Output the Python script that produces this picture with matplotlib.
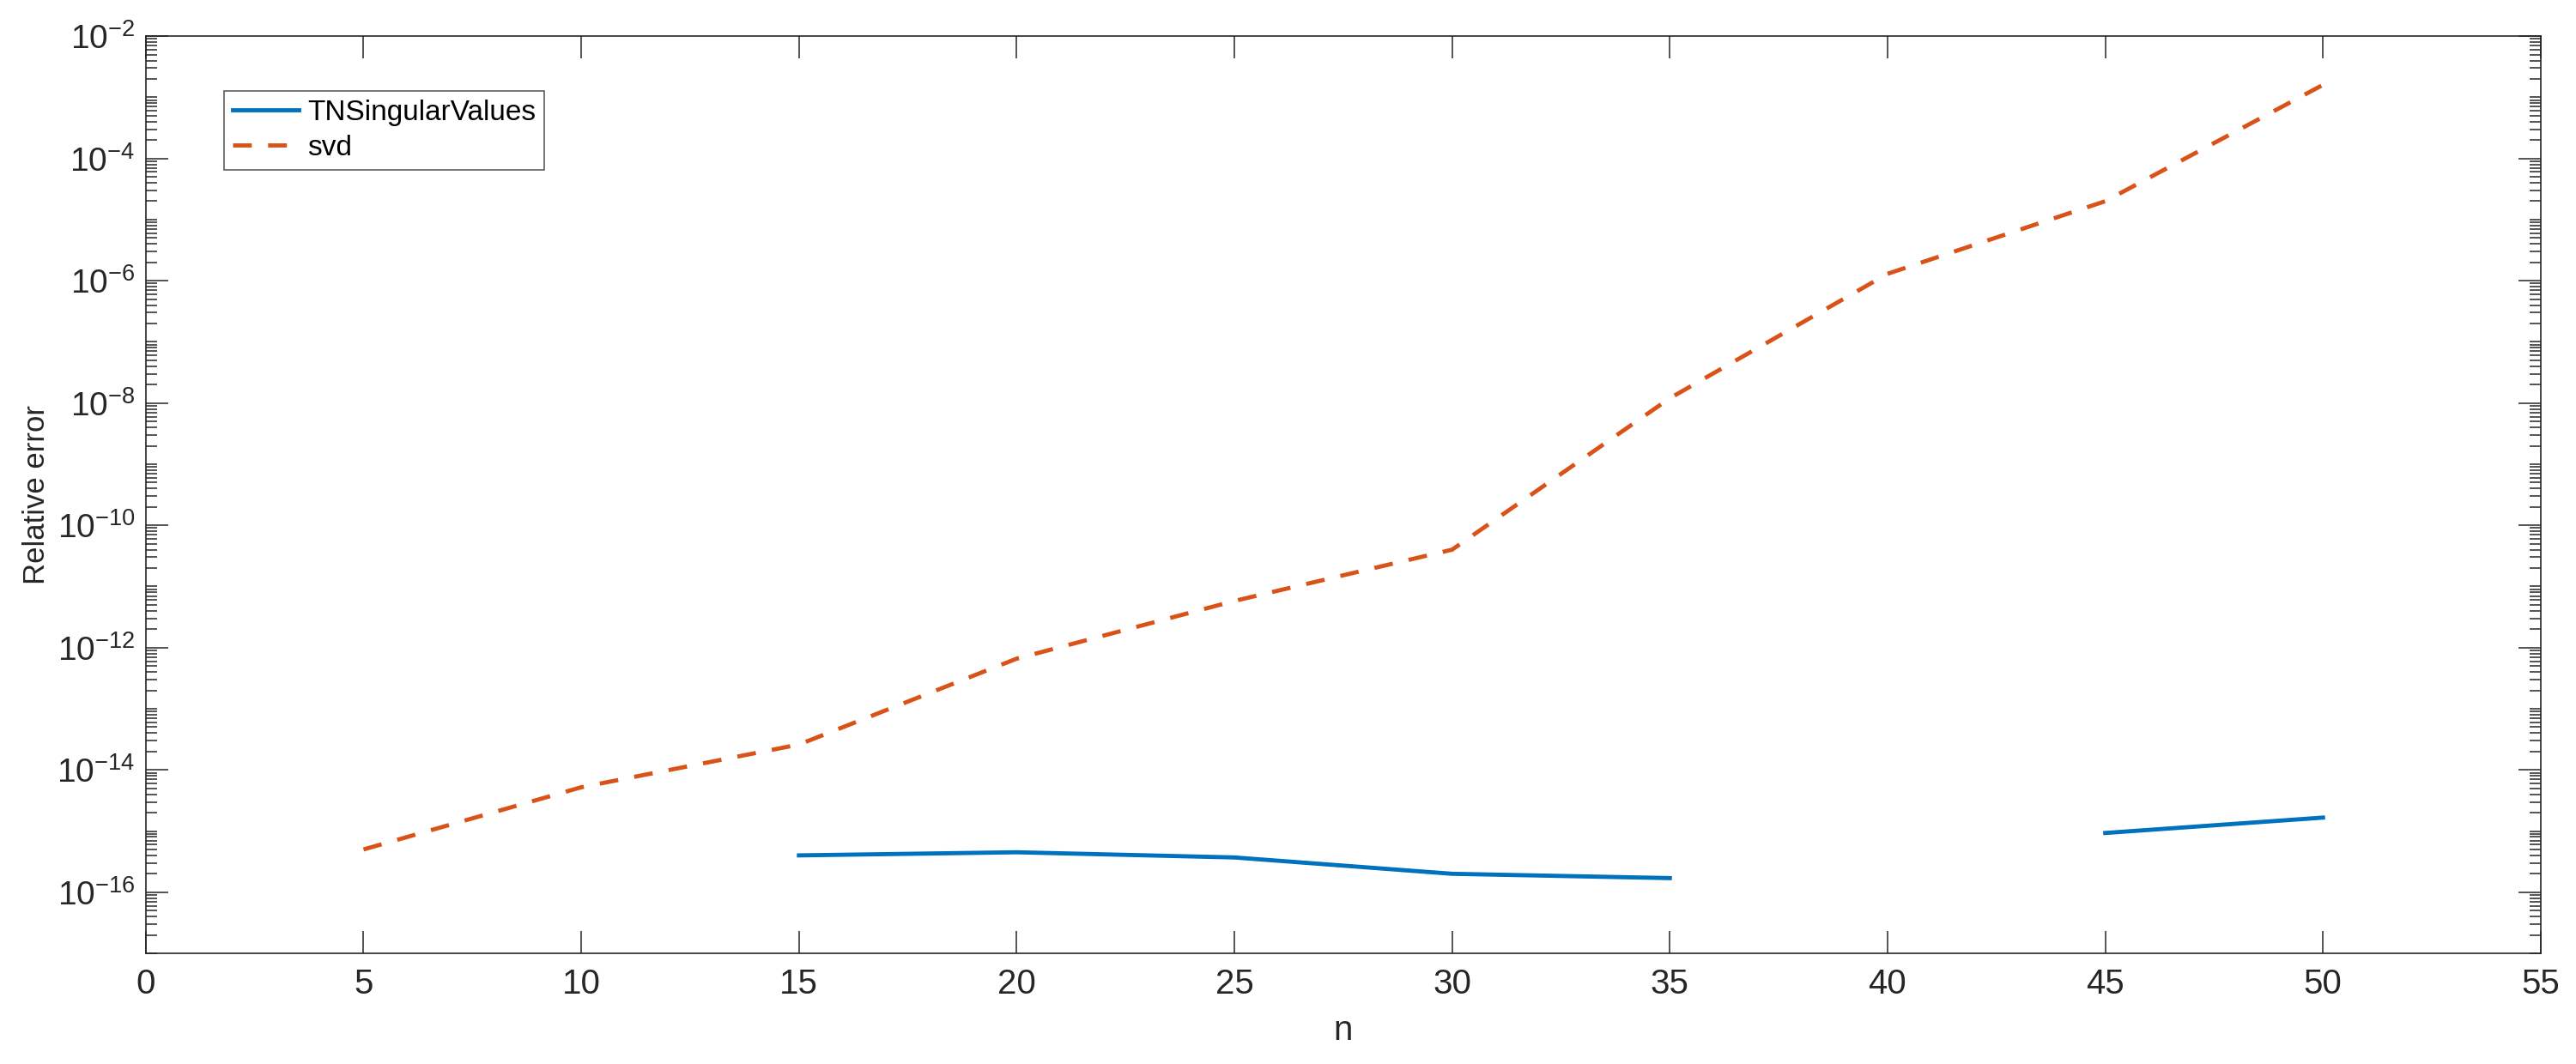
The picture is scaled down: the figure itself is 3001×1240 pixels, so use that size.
import numpy as np
import matplotlib
matplotlib.use("Agg")
import matplotlib.pyplot as plt
from matplotlib.ticker import FixedLocator, LogLocator, NullFormatter

plt.rcParams['font.family'] = ['Liberation Sans', 'DejaVu Sans']
plt.rcParams['mathtext.fontset'] = 'custom'
plt.rcParams['mathtext.rm'] = 'Liberation Sans'
plt.rcParams['mathtext.it'] = 'Liberation Sans'

# data (NaN = not shown)
n = [5, 10, 15, 20, 25, 30, 35, 40, 45, 50]
tn_err = [np.nan, np.nan, 4.0e-16, 4.5e-16, 3.7e-16, 2.0e-16, 1.7e-16, np.nan, 9.3e-16, 1.66e-15]
svd_err = [5.0e-16, 5.2e-15, 2.6e-14, 6.6e-13, 5.8e-12, 4.0e-11, 1.2e-8, 1.3e-6, 2.0e-5, 1.6e-3]
labels = ['TNSingularValues', 'svd']

blue = '#0072BD'
orange = '#D95319'
dark = '#262626'

fig = plt.figure(figsize=(30.01, 12.4), dpi=100)
ax = fig.add_axes([0.0566, 0.104, 0.9297, 0.862])

ax.plot(n, tn_err, color=blue, lw=3.5, label=labels[0])
ax.plot(n, svd_err, color=orange, lw=3.5, linestyle=(0, (4.5, 3.9)), label=labels[1])

ax.set_yscale('log')
ax.set_xlim(0, 55)
ax.set_ylim(1e-17, 1e-2)
ax.set_xticks(np.arange(0, 56, 5))
ax.yaxis.set_major_locator(FixedLocator([10.0 ** e for e in range(-16, -1, 2)]))
ax.yaxis.set_minor_locator(LogLocator(base=10, subs=np.arange(1, 10), numticks=100))
ax.yaxis.set_minor_formatter(NullFormatter())

ax.tick_params(which='both', direction='in', top=True, right=True, colors=dark, width=1.1)
ax.tick_params(axis='x', labelsize=29, pad=12)
ax.tick_params(axis='y', labelsize=28, pad=9)
ax.tick_params(which='major', length=19)
ax.tick_params(which='minor', length=9.5)
for s in ax.spines.values():
    s.set_color(dark)
    s.set_linewidth(1.2)

ax.set_xlabel('n', fontsize=29, color=dark, labelpad=12)
ax.set_ylabel('Relative error', fontsize=25, color=dark, labelpad=5)

leg = ax.legend(loc='upper left', bbox_to_anchor=(0.087, 0.9145),
                bbox_transform=fig.transFigure, fontsize=24, frameon=True,
                fancybox=False, handlelength=2.3, handletextpad=0.3,
                labelspacing=0.3, borderpad=0.3, borderaxespad=0)
leg.get_frame().set_edgecolor(dark)
leg.get_frame().set_linewidth(1.1)

fig.savefig('out.png', dpi=100)
